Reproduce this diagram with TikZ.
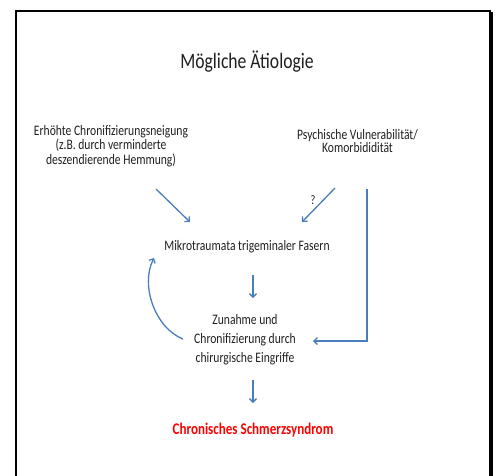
\documentclass[tikz,border=0pt]{standalone}
\usepackage{fontspec}
\setmainfont{Carlito}[FakeStretch=0.8]
\usetikzlibrary{arrows.meta}
\definecolor{arrowblue}{RGB}{74,126,187}
\definecolor{alertred}{RGB}{255,0,0}
\begin{document}
\begin{tikzpicture}[x=1pt,y=-1pt,
  conn/.style={draw=arrowblue, line width=1.3pt, -{Straight Barb[length=3.5pt,width=7pt]}},
  lbl/.style={align=center, inner sep=0pt, anchor=base, text=black!88,
    font=\fontsize{14.5}{14.5}\selectfont},
  rlbl/.style={lbl, font=\fontsize{14.5}{13}\selectfont},
  midlbl/.style={lbl, font=\fontsize{14.5}{19}\selectfont},
  frame/.style={draw=black, line width=2pt}
]
\useasboundingbox (0,0) rectangle (497,475);
\draw[frame] (16,480) -- (16,11) -- (491,11);
\draw[draw=black, line width=3.5pt] (491,12) -- (491,480);

\node[lbl, font=\fontsize{22}{24}\selectfont] (title) at (247,68) {Mögliche Ätiologie};

% multi-line nodes: base anchor = baseline of the last line
\node[lbl] (erh) at (111,164) {Erhöhte Chronifizierungsneigung\\(z.B. durch verminderte\\deszendierende Hemmung)};
\node[rlbl] (psy) at (357.5,152) {Psychische Vulnerabilität/\\Komorbididität};

\node[lbl] (mikro) at (247,250) {Mikrotraumata trigeminaler Fasern};
\node[midlbl] (zun) at (245,362) {Zunahme und\\Chronifizierung durch\\chirurgische Eingriffe};
\node[lbl, text=alertred, font=\fontsize{16.3}{17}\selectfont\bfseries] (chron) at (253,434) {Chronisches Schmerzsyndrom};

\coordinate (a1s) at (156,189);
\coordinate (a1e) at (190,222);
\coordinate (a2s) at (335,188);
\coordinate (a2e) at (302,222);
\coordinate (a3s) at (367,189);
\coordinate (a3c) at (367,341);
\coordinate (a3e) at (313,341);
\coordinate (a4s) at (253,275);
\coordinate (a4e) at (253,298);
\coordinate (a5s) at (183,339);
\coordinate (a5e) at (154,258);
\coordinate (a6s) at (253,380);
\coordinate (a6e) at (253,403);

\draw[conn] (a1s) -- (a1e);
\draw[conn] (a2s) -- (a2e);
\node[lbl, font=\fontsize{13}{14}\selectfont] (q) at (313,204) {?};
\draw[conn] (a3s) -- (a3c) -- (a3e);
\draw[conn] (a4s) -- (a4e);
\draw[conn] (a5s) .. controls (155,328) and (140,285) .. (a5e);
\draw[conn] (a6s) -- (a6e);
\end{tikzpicture}
\end{document}
